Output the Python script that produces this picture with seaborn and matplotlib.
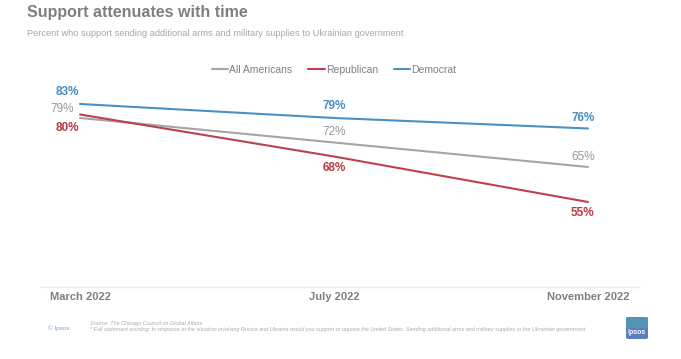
import matplotlib
matplotlib.use("Agg")
import matplotlib.pyplot as plt
import seaborn as sns
import pandas as pd
from matplotlib.patches import FancyBboxPatch

periods = ["March 2022", "July 2022", "November 2022"]
all_americans = [79, 72, 65]
republican = [80, 68, 55]
democrat = [83, 79, 76]
series_names = ["All Americans", "Republican", "Democrat"]

sns.set_theme(style="white")
plt.rcParams['font.family'] = ['Liberation Sans', 'DejaVu Sans']

colors = {"All Americans": "#a5a5a5", "Republican": "#c0404a", "Democrat": "#4a90c4"}
label_colors = {"All Americans": "#999999", "Republican": "#b83a44", "Democrat": "#4a8cc0"}

rows = []
for name, vals in zip(series_names, [all_americans, republican, democrat]):
    for i, (p, v) in enumerate(zip(periods, vals)):
        rows.append({"period": p, "x": i, "value": v, "series": name})
df = pd.DataFrame(rows)

fig = plt.figure(figsize=(6.81, 3.59), dpi=100)
ax = fig.add_axes([0.0802, 0.1936, 0.8205, 0.585])

sns.lineplot(data=df, x="x", y="value", hue="series", palette=colors,
             hue_order=series_names, linewidth=1.5, ax=ax, legend=True)

ax.set_xlim(-0.1, 2.1)
ax.set_ylim(30, 90)
ax.set_xlabel("")
ax.set_ylabel("")
ax.set_yticks([])
ax.set_xticks([0, 1, 2])
ax.set_xticklabels(periods, fontsize=8, fontweight="bold", color="#7f7f7f")
ax.tick_params(axis="x", length=0, pad=1.5)
for s in ["top", "right", "left", "bottom"]:
    ax.spines[s].set_visible(False)

# data labels: (dx, dy) per point
offsets = {
    "Democrat": [(-0.05, 3.4), (0, 3.4), (-0.02, 3.1)],
    "All Americans": [(-0.07, 2.6), (0, 3.1), (-0.02, 2.9)],
    "Republican": [(-0.05, -3.9), (0, -3.4), (-0.02, -3.1)],
}
for name, vals in zip(series_names, [all_americans, republican, democrat]):
    for i, v in enumerate(vals):
        dx, dy = offsets[name][i]
        bold = name != "All Americans"
        ax.text(i + dx, v + dy, f"{v}%", ha="center", va="center", fontsize=8.5,
                fontweight="bold" if bold else "normal", color=label_colors[name])

leg = ax.legend(loc="center", bbox_to_anchor=(0.5, 1.045), ncol=3, frameon=False,
                fontsize=7.5, handlelength=1.6, handletextpad=0.1, columnspacing=1.5)
for t in leg.get_texts():
    t.set_color("#7f7f7f")

# faint axis line
fig.add_artist(plt.Line2D([40 / 681, 640 / 681], [1 - 287 / 359] * 2, color="#eeeeee", lw=1))

fig.text(27 / 681, 1 - 13 / 359, "Support attenuates with time", fontsize=11.5,
         fontweight="bold", color="#7f7f7f", va="center", ha="left")
fig.text(27 / 681, 1 - 34 / 359,
         "Percent who support sending additional arms and military supplies to Ukrainian government",
         fontsize=6.7, color="#a6a6a6", va="center", ha="left")

fig.text(48 / 681, 1 - 328 / 359, "© Ipsos", fontsize=4.5, color="#7f9fbf", va="center")
fig.text(90 / 681, 1 - 324 / 359, "Source: The Chicago Council on Global Affairs",
         fontsize=4.0, style="italic", color="#aaaaaa", va="center")
fig.text(90 / 681, 1 - 330 / 359,
         "* Full statement wording: In response to the situation involving Russia and Ukraine would you support or oppose the United States: Sending additional arms and military supplies to the Ukrainian government",
         fontsize=4.0, style="italic", color="#aaaaaa", va="center")

# logo
logo = FancyBboxPatch((626 / 681, 1 - 339 / 359), 22 / 681, 22 / 359,
                      boxstyle="round,pad=0,rounding_size=0.004",
                      transform=fig.transFigure, facecolor="#5a7fbf", edgecolor="none")
fig.add_artist(logo)
logo2 = FancyBboxPatch((626 / 681, 1 - 328 / 359), 22 / 681, 11 / 359,
                       boxstyle="square,pad=0", transform=fig.transFigure,
                       facecolor="#4fa3b0", edgecolor="none", alpha=0.6)
fig.add_artist(logo2)
fig.text(637 / 681, 1 - 333 / 359, "Ipsos", fontsize=5, color="white",
         ha="center", va="center", fontweight="bold")

fig.savefig("out.png", dpi=100)
